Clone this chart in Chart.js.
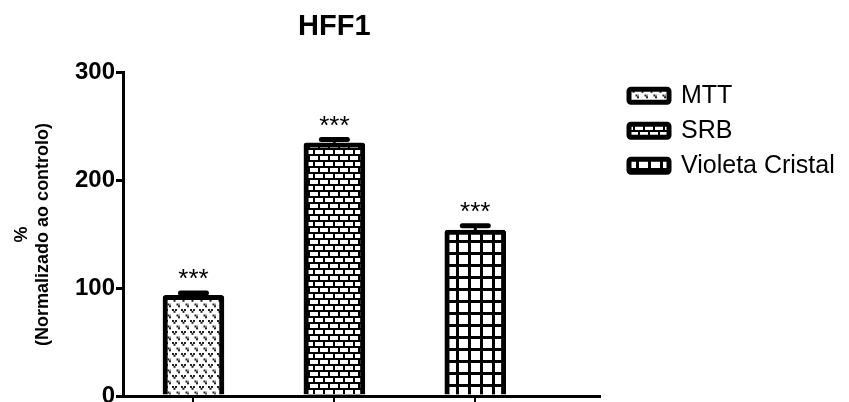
<!DOCTYPE html>
<html>
<head>
<meta charset="utf-8">
<script src="https://cdn.jsdelivr.net/npm/chart.js@4.4.1/dist/chart.umd.min.js"></script>
<style>
  html, body { margin: 0; padding: 0; background: #fff; }
  #wrap { width: 849px; height: 402px; }
</style>
</head>
<body>
<div id="wrap"><canvas id="c" width="849" height="402"></canvas></div>
<script>
// HFF1 viability, normalised to control (%)
const assays = ['MTT', 'SRB', 'Violeta Cristal'];
const means = [93.5, 235, 154];
const sems = [2, 3, 4];
const significance = ['***', '***', '***'];
const yTicks = [0, 100, 200, 300];

const FONT = 'Arial, "Liberation Sans", Helvetica, sans-serif';

// --- fill patterns -------------------------------------------------------
function makeTile(w, h, draw) {
  const c = document.createElement('canvas');
  c.width = w; c.height = h;
  const g = c.getContext('2d');
  g.fillStyle = '#fff';
  g.fillRect(0, 0, w, h);
  draw(g);
  return document.getElementById('c').getContext('2d').createPattern(c, 'repeat');
}

// small "v" stipple
const dotted = makeTile(9, 11, g => {
  g.fillStyle = '#222';
  const mark = (x, y) => {
    g.fillRect(x, y, 2, 2);
    g.fillRect(x + 3, y, 2, 2);
    g.fillRect(x + 1.5, y + 1.8, 2, 2);
  };
  mark(1, 1);
  mark(5.5, 6.5);
});

// brickwork
const bricks = makeTile(20, 12, g => {
  g.fillStyle = '#000';
  g.fillRect(0, 4, 20, 2);
  g.fillRect(0, 10, 20, 2);
  g.fillRect(8, 0, 2, 4);
  g.fillRect(18, 0, 2, 4);
  g.fillRect(3, 6, 2, 4);
  g.fillRect(13, 6, 2, 4);
});

// square grid
const grid = makeTile(12, 12, g => {
  g.fillStyle = '#000';
  g.fillRect(0, 0, 12, 3);
  g.fillRect(0, 0, 3, 12);
});

const fills = [dotted, bricks, grid];

// --- error bars and significance marks -----------------------------------
const errorBars = {
  id: 'errorBars',
  afterDatasetsDraw(chart) {
    const ctx = chart.ctx;
    const y = chart.scales.y;
    chart.data.datasets.forEach((ds, i) => {
      const bar = chart.getDatasetMeta(i).data[0];
      const top = y.getPixelForValue(means[i] + sems[i]);
      ctx.save();
      ctx.strokeStyle = '#000';
      ctx.lineWidth = 3;
      ctx.beginPath();
      ctx.moveTo(bar.x, bar.y);
      ctx.lineTo(bar.x, top);
      ctx.stroke();
      ctx.lineWidth = 5;
      ctx.lineCap = 'round';
      ctx.beginPath();
      ctx.moveTo(bar.x - 13, top);
      ctx.lineTo(bar.x + 13, top);
      ctx.stroke();
      ctx.fillStyle = '#000';
      ctx.font = '26px ' + FONT;
      ctx.textAlign = 'center';
      ctx.textBaseline = 'alphabetic';
      ctx.fillText(significance[i], bar.x, top - 6);
      ctx.restore();
    });
  }
};

// keep the title centred over the three assay slots
const centreTitle = {
  id: 'centreTitle',
  afterLayout(chart) {
    const x = chart.scales.x;
    if (chart.titleBlock) {
      chart.titleBlock.left = x.getPixelForValue(0);
      chart.titleBlock.right = x.getPixelForValue(assays.length);
    }
  }
};

// key to the three fills, to the right of the plot
const sideLegend = {
  id: 'sideLegend',
  afterDraw(chart) {
    const ctx = chart.ctx;
    const area = chart.chartArea;
    const x0 = area.right + 29;
    const rowH = 35;
    ctx.save();
    ctx.font = '25px ' + FONT;
    ctx.textBaseline = 'middle';
    ctx.textAlign = 'left';
    chart.data.datasets.forEach((ds, i) => {
      const cy = area.top + 23 + i * rowH;
      ctx.beginPath();
      ctx.roundRect(x0, cy - 6.5, 40, 13, 2);
      ctx.fillStyle = ds.backgroundColor;
      ctx.fill();
      ctx.lineWidth = 5;
      ctx.strokeStyle = '#000';
      ctx.stroke();
      ctx.fillStyle = '#000';
      ctx.fillText(ds.label, x0 + 52, cy);
    });
    ctx.restore();
  }
};

const datasets = assays.map((name, i) => ({
  label: name,
  data: [{ x: i + 0.5, y: means[i] }],
  backgroundColor: fills[i],
  borderColor: '#000',
  borderWidth: 5,
  borderRadius: 3,
  borderSkipped: 'bottom',
  grouped: false,
  barThickness: 61
}));

new Chart(document.getElementById('c'), {
  type: 'bar',
  data: { datasets },
  plugins: [errorBars, centreTitle, sideLegend],
  options: {
    responsive: false,
    animation: false,
    layout: { padding: { left: 0, right: 249, top: 0, bottom: 0 } },
    scales: {
      x: {
        type: 'linear',
        min: 0,
        max: 3.385,
        offset: false,
        afterBuildTicks: s => { s.ticks = assays.map((_, i) => ({ value: i + 0.5 })); },
        ticks: { display: false },
        grid: { offset: false, drawOnChartArea: false, drawTicks: true, tickLength: 6, color: '#000', lineWidth: 2 },
        border: { display: true, color: '#000', width: 3 }
      },
      y: {
        min: 0,
        max: 300,
        afterBuildTicks: s => { s.ticks = yTicks.map(v => ({ value: v })); },
        ticks: { color: '#000', font: { family: FONT, size: 24, weight: 'bold' }, padding: 1 },
        grid: { drawOnChartArea: false, drawTicks: true, tickLength: 7, color: '#000', lineWidth: 3 },
        border: { display: true, color: '#000', width: 3 },
        title: {
          display: true,
          text: ['%', '(Normalizado ao controlo)'],
          color: '#000',
          font: { family: FONT, size: 18, weight: 'bold', lineHeight: 1.2 },
          padding: { top: 11, bottom: 0 }
        },
        afterFit: s => { s.width = 123; s.paddingBottom = 0; }
      }
    },
    plugins: {
      title: {
        display: true,
        text: 'HFF1',
        color: '#000',
        font: { family: FONT, size: 29, weight: 'bold', lineHeight: 1.2 },
        padding: { top: 10, bottom: 28 }
      },
      legend: { display: false },
      tooltip: { enabled: false }
    }
  }
});
</script>
</body>
</html>
